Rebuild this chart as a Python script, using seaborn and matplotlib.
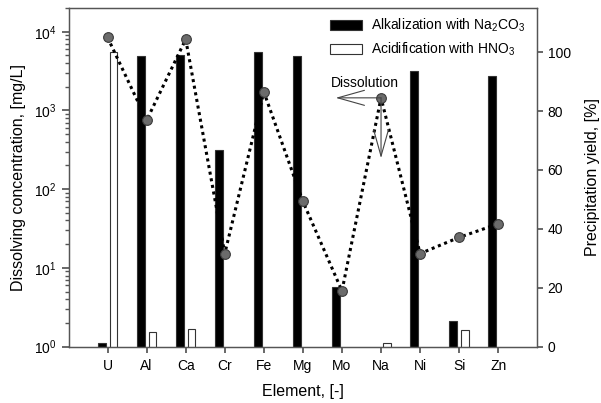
import numpy as np
import pandas as pd
import matplotlib
matplotlib.use("Agg")
import matplotlib.pyplot as plt
from matplotlib.ticker import LogLocator, FixedLocator
import seaborn as sns

# Elements analysed
elements = ["U", "Al", "Ca", "Cr", "Fe", "Mg", "Mo", "Na", "Ni", "Si", "Zn"]

# Dissolved concentration [mg/L] after each treatment (NaN = not detected)
alkalization = [1.12, 4900, 5000, 313, 5500, 4900, 5.7, np.nan, 3150, 2.1, 2720]
acidification = [5500, 1.51, 1.65, np.nan, np.nan, np.nan, np.nan, 1.1, np.nan, 1.62, np.nan]

# Precipitation yield [%]
precip_yield = [105, 76.9, 104.4, 31.6, 86.5, 49.3, 18.9, 84.5, 31.6, 37.1, 41.7]

series_names = ["Alkalization with Na$_2$CO$_3$", "Acidification with HNO$_3$"]

sns.set_theme(style="ticks")
plt.rcParams["font.family"] = ["Liberation Sans", "DejaVu Sans"]
plt.rcParams["mathtext.default"] = "regular"
for key in ("text.color", "axes.labelcolor", "xtick.color", "ytick.color"):
    plt.rcParams[key] = "black"

rows = []
for el, a, b in zip(elements, alkalization, acidification):
    rows.append((el, series_names[0], a))
    rows.append((el, series_names[1], b))
df = pd.DataFrame(rows, columns=["Element", "Treatment", "Concentration"]).dropna()

fig = plt.figure(figsize=(6.01, 4.03), dpi=100)
ax = fig.add_axes([0.114, 0.140, 0.780, 0.840])

sns.barplot(
    data=df, x="Element", y="Concentration", hue="Treatment",
    order=elements, hue_order=series_names,
    palette={series_names[0]: "black", series_names[1]: "white"},
    width=0.6, gap=0.33, errorbar=None, edgecolor="#333333", linewidth=0.8,
    ax=ax,
)
ax.set_yscale("log")
ax.set_ylim(1, 2e4)
ax.set_xlim(-1, 11)
ax.yaxis.set_major_locator(LogLocator(base=10, numticks=10))
ax.yaxis.set_minor_locator(LogLocator(base=10, subs=np.arange(2, 10), numticks=50))

handles, labels = ax.get_legend_handles_labels()
ax.legend(handles, labels, loc="upper right", bbox_to_anchor=(0.985, 0.99),
          frameon=False, fontsize=10, handlelength=2.3, handleheight=0.8,
          labelspacing=0.45, handletextpad=0.6, borderaxespad=0)

ax.set_xlabel("Element, [-]", fontsize=11.5, labelpad=8)
ax.set_ylabel("Dissolving concentration, [mg/L]", fontsize=11.5, labelpad=6)

# Precipitation yield on a secondary axis
ax2 = ax.twinx()
sns.lineplot(
    x=np.arange(len(elements)), y=precip_yield, ax=ax2, sort=False,
    color="black", linestyle=(0, (1, 1.2)), linewidth=2.2,
    marker="o", markersize=7, markerfacecolor="#6b6b6b",
    markeredgecolor="#3a3a3a", markeredgewidth=0.8,
)
ax2.set_ylim(0, 115)
ax2.yaxis.set_major_locator(FixedLocator([0, 20, 40, 60, 80, 100]))
ax2.set_ylabel("Precipitation yield, [%]", fontsize=11.5, labelpad=10)
ax2.set_xlim(-1, 11)

# Dissolution arrows from the Na point
na = elements.index("Na")
arrow_kw = dict(arrowstyle="->, head_length=1.6, head_width=0.45",
                color="#444444", lw=0.8, shrinkA=0, shrinkB=0)
ax2.annotate("", xy=(na - 1.16, precip_yield[na]), xytext=(na, precip_yield[na]),
             arrowprops=arrow_kw)
ax2.annotate("", xy=(na, 64), xytext=(na, precip_yield[na]), arrowprops=arrow_kw)
ax2.text(na - 0.42, 89.6, "Dissolution", fontsize=10, ha="center", va="center")

spine_color = "#555555"
for a in (ax, ax2):
    for s in a.spines.values():
        s.set_color(spine_color)
        s.set_linewidth(0.9)
ax.tick_params(axis="x", direction="out", length=4, color=spine_color, labelsize=10, pad=5)
ax.tick_params(axis="y", which="major", direction="out", length=5, color=spine_color, labelsize=10)
ax.tick_params(axis="y", which="minor", direction="out", length=3, color=spine_color)
ax2.tick_params(axis="y", direction="out", length=4, color=spine_color, labelsize=10)

fig.savefig("out.png", dpi=100)
